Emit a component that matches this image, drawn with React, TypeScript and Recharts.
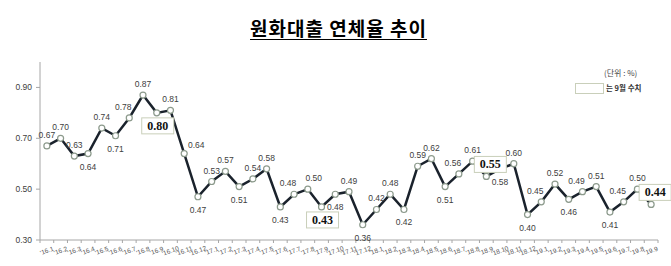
import React from "react";
import { LineChart, Line, XAxis, YAxis, LabelList } from "recharts";

const MONTHS = [
  "'16.1", "'16.2", "'16.3", "'16.4", "'16.5", "'16.6", "'16.7", "'16.8", "'16.9", "'16.10", "'16.11", "'16.12",
  "'17.1", "'17.2", "'17.3", "'17.4", "'17.5", "'17.6", "'17.7", "'17.8", "'17.9", "'17.10", "'17.11", "'17.12",
  "'18.1", "'18.2", "'18.3", "'18.4", "'18.5", "'18.6", "'18.7", "'18.8", "'18.9", "'18.10", "'18.11", "'18.12",
  "'19.1", "'19.2", "'19.3", "'19.4", "'19.5", "'19.6", "'19.7", "'19.8", "'19.9",
];

const RATES = [
  0.67, 0.70, 0.63, 0.64, 0.74, 0.71, 0.78, 0.87, 0.80, 0.81, 0.64, 0.47,
  0.53, 0.57, 0.51, 0.54, 0.58, 0.43, 0.48, 0.50, 0.43, 0.48, 0.49, 0.36,
  0.42, 0.48, 0.42, 0.59, 0.62, 0.51, 0.56, 0.61, 0.55, 0.58, 0.60, 0.40,
  0.45, 0.52, 0.46, 0.49, 0.51, 0.41, 0.45, 0.50, 0.44,
];

const Y_TICKS = [0.3, 0.5, 0.7, 0.9];

// label side per point: a = above, al/ar = above shifted, b = below, r = right
const LABEL_SIDE = [
  "a", "a", "a", "b", "a", "b", "al", "a", "b", "a", "r", "b",
  "a", "a", "b", "a", "a", "b", "al", "ar", "b", "b", "a", "b",
  "a", "a", "b", "a", "a", "b", "al", "a", "a", "b", "a", "b",
  "al", "a", "b", "al", "a", "b", "al", "a", "a",
];

const data = MONTHS.map((m, i) => ({ m, v: RATES[i] }));

const W = 671;
const H = 266;
const M = { top: 62, right: 13, bottom: 0, left: 0 };
const Y_W = 40;
const BAND = (W - M.right - Y_W) / MONTHS.length;

const XTick = (props: any) => {
  const { x, y, payload, index } = props;
  const last = index === MONTHS.length - 1;
  return (
    <g>
      <line x1={x - BAND / 2} x2={x - BAND / 2} y1={y} y2={y + 3} stroke="#a6a6a6" />
      {last && <line x1={x + BAND / 2} x2={x + BAND / 2} y1={y} y2={y + 3} stroke="#a6a6a6" />}
      <text
        x={x}
        y={y + 13}
        textAnchor="middle"
        fontSize={6.5}
        fill="#555"
        fontFamily="Liberation Sans, Arial, sans-serif"
        transform={`rotate(-20 ${x} ${y + 11})`}
      >
        {payload.value}
      </text>
    </g>
  );
};

const renderLabel = (props: any) => {
  const { x, y, value, index } = props;
  const side = LABEL_SIDE[index];
  const txt = Number(value).toFixed(2);
  if (MONTHS[index].endsWith(".9")) {
    const cx = side === "a" ? x + 4 : x + 1;
    const cy = side === "a" ? y - 12 : y + 13;
    return (
      <g>
        <rect x={cx - 16} y={cy - 8} width={32} height={16} fill="#fff" stroke="#c9cfba" strokeWidth={1} />
        <text
          x={cx}
          y={cy + 4}
          textAnchor="middle"
          fontSize={12}
          fontWeight="bold"
          fill="#111"
          fontFamily="Liberation Serif, serif"
        >
          {txt}
        </text>
      </g>
    );
  }
  let tx = x;
  let ty = y - 8;
  if (side === "al") tx = x - 6;
  if (side === "ar") tx = x + 6;
  if (side === "b") ty = y + 16;
  if (side === "r") {
    tx = x + 12;
    ty = y - 6;
  }
  return (
    <text x={tx} y={ty} textAnchor="middle" fontSize={8.5} fill="#404040" fontFamily="Liberation Sans, Arial, sans-serif">
      {txt}
    </text>
  );
};

export default function App() {
  return (
    <div style={{ position: "absolute", left: 0, top: 0, width: W, height: H, background: "#fff", overflow: "hidden" }}>
      <div
        style={{
          position: "absolute",
          left: 3,
          top: 17,
          width: W,
          textAlign: "center",
          fontFamily: "'Noto Sans CJK KR', sans-serif",
          fontWeight: 700,
          fontSize: 19,
          lineHeight: "22px",
          letterSpacing: 1,
          textDecoration: "underline",
          textUnderlineOffset: 3,
          color: "#000",
        }}
      >
        원화대출 연체율 추이
      </div>
      <div
        style={{
          position: "absolute",
          left: 604,
          top: 67,
          fontFamily: "'Noto Sans CJK KR', sans-serif",
          fontSize: 8,
          color: "#444",
          lineHeight: "12px",
        }}
      >
        (단위 : %)
      </div>
      <div
        style={{
          position: "absolute",
          left: 575,
          top: 83,
          width: 27,
          height: 9,
          border: "1px solid #c9cfba",
          background: "#fff",
        }}
      />
      <div
        style={{
          position: "absolute",
          left: 606,
          top: 82,
          fontFamily: "'Noto Sans CJK KR', sans-serif",
          fontSize: 7.5,
          fontWeight: 700,
          color: "#333",
          lineHeight: "12px",
        }}
      >
        는 9월 수치
      </div>
      <LineChart width={W} height={H} data={data} margin={M} style={{ position: "absolute", left: 0, top: 0 }}>
        <XAxis
          dataKey="m"
          interval={0}
          height={26}
          padding={{ left: BAND / 2, right: BAND / 2 }}
          tickLine={false}
          tickSize={0}
          tickMargin={0}
          axisLine={{ stroke: "#a6a6a6" }}
          tick={<XTick />}
        />
        <YAxis
          width={Y_W}
          domain={[0.3, 1.0]}
          ticks={Y_TICKS}
          tickFormatter={(v: number) => v.toFixed(2)}
          tickSize={4}
          tickMargin={4}
          axisLine={{ stroke: "#a6a6a6" }}
          tickLine={{ stroke: "#a6a6a6" }}
          tick={{ fontSize: 8.5, fill: "#404040", fontFamily: "Liberation Sans, Arial, sans-serif" }}
        />
        <Line
          dataKey="v"
          stroke="#1a222c"
          strokeWidth={2.5}
          isAnimationActive={false}
          dot={{ r: 3, fill: "#fff", stroke: "#8c9a8c", strokeWidth: 1.2 }}
        >
          <LabelList dataKey="v" content={renderLabel} />
        </Line>
      </LineChart>
    </div>
  );
}
